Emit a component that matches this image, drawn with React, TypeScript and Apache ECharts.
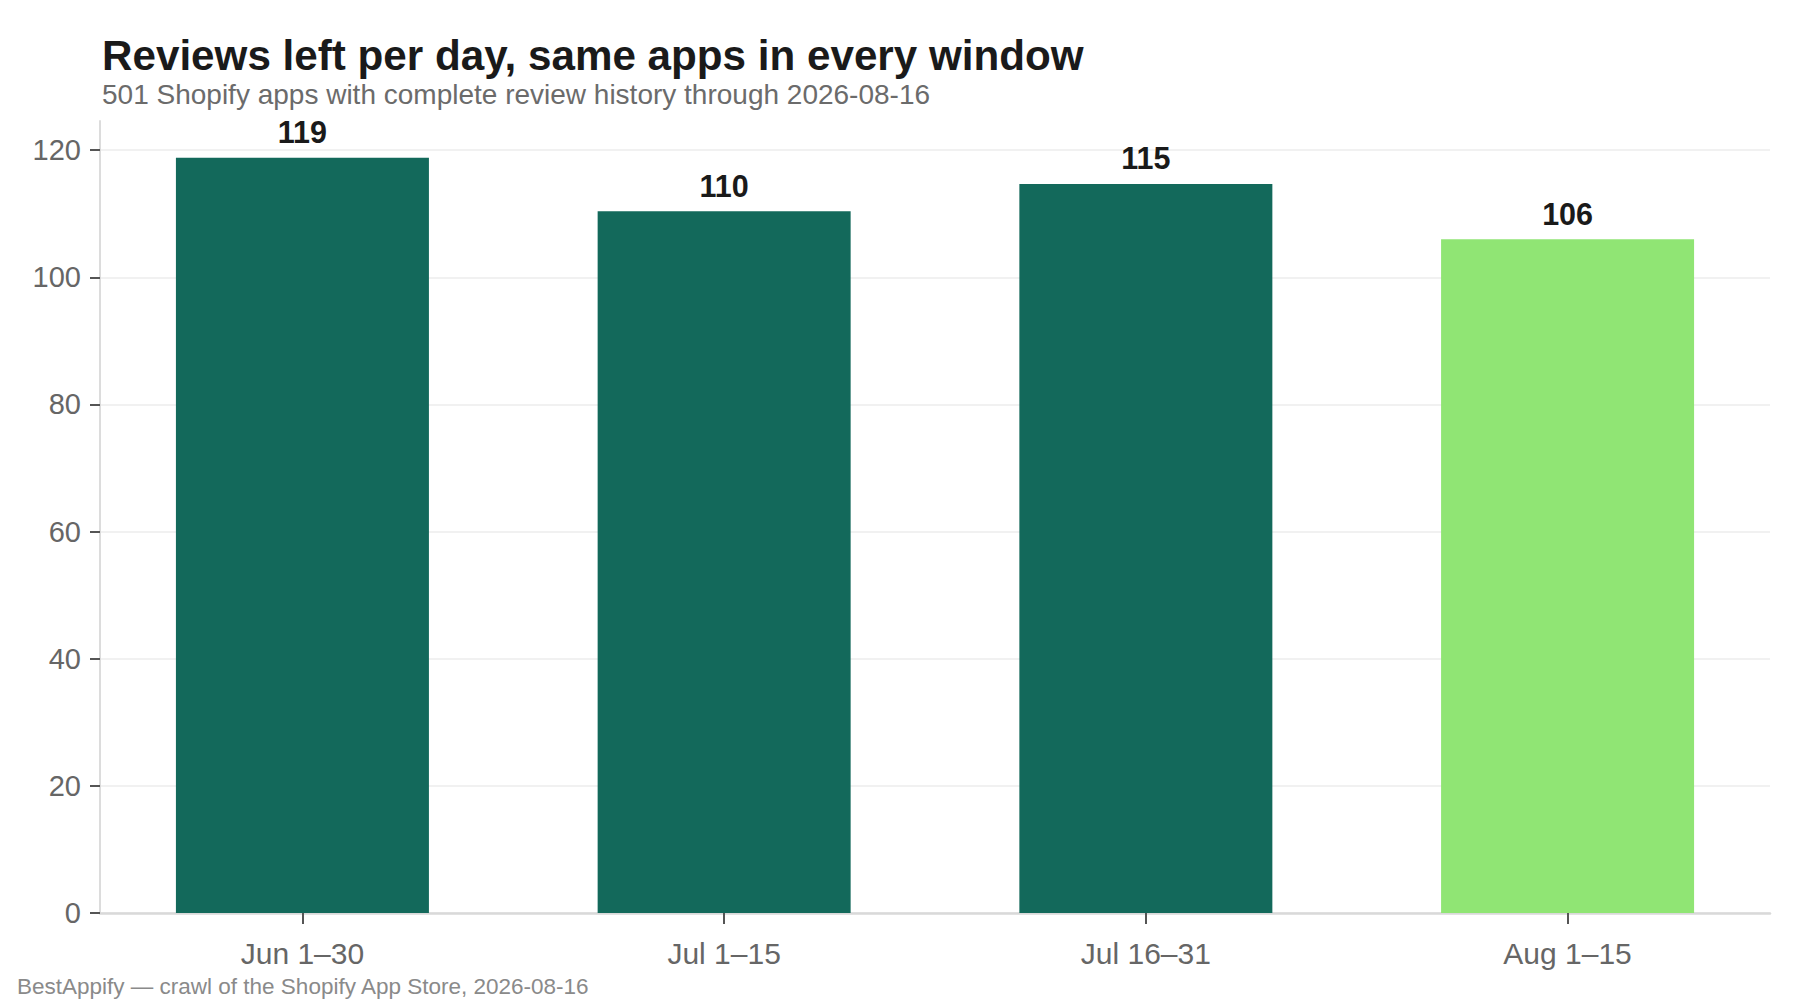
import React, { useEffect, useRef } from "react";
import * as echarts from "echarts";

const categories = ["Jun 1–30", "Jul 1–15", "Jul 16–31", "Aug 1–15"];
const reviewsPerDay = [118.8, 110.4, 114.7, 106.0];
const highlightIndex = 3;
const yTicks = [0, 20, 40, 60, 80, 100, 120];
const xTicks = [1, 2, 3, 4];

const TITLE = "Reviews left per day, same apps in every window";
const SUBTITLE = "501 Shopify apps with complete review history through 2026-08-16";
const FOOTER = "BestAppify — crawl of the Shopify App Store, 2026-08-16";

const DARK = "#13695b";
const LIGHT = "#90e574";
const FONT = "'Liberation Sans', Arial, Helvetica, sans-serif";

export default function App() {
  const ref = useRef<HTMLDivElement>(null);
  useEffect(() => {
    document.body.style.margin = "0";
    if (!ref.current) return;
    const chart = echarts.init(ref.current, null, { renderer: "svg" });
    const data = reviewsPerDay.map((v, i) => ({
      value: [i + 1, v],
      itemStyle: { color: i === highlightIndex ? LIGHT : DARK },
    }));
    chart.setOption({
      animation: false,
      backgroundColor: "#ffffff",
      textStyle: { fontFamily: FONT },
      title: [
        {
          text: TITLE,
          left: 102,
          top: 34,
          padding: 0,
          textStyle: { fontFamily: FONT, fontSize: 42.2, fontWeight: "bold", color: "#1a1a1a" },
        },
        {
          text: SUBTITLE,
          left: 102,
          top: 80.5,
          padding: 0,
          textStyle: { fontFamily: FONT, fontSize: 28, fontWeight: "normal", color: "#6b6b6b" },
        },
        {
          text: FOOTER,
          left: 17,
          top: 974.5,
          padding: 0,
          textStyle: { fontFamily: FONT, fontSize: 22.5, fontWeight: "normal", color: "#8a8a8a" },
        },
      ],
      grid: { left: 100, right: 30, top: 121, height: 792, containLabel: false },
      xAxis: {
        type: "value",
        min: 0.52,
        max: 4.48,
        splitLine: { show: false },
        axisLine: { show: true, onZero: false, lineStyle: { color: "#d9d9d9", width: 2.5 } },
        axisTick: {
          show: true,
          customValues: xTicks,
          length: 11,
          lineStyle: { color: "#555555", width: 2 },
        },
        axisLabel: {
          customValues: xTicks,
          margin: 25,
          fontSize: 30,
          fontFamily: FONT,
          color: "#666666",
          formatter: (v: number) => categories[Math.round(v) - 1] ?? "",
        },
      },
      yAxis: {
        type: "value",
        min: 0,
        max: 124.6,
        interval: 20,
        axisLine: { show: true, lineStyle: { color: "#dcdcdc", width: 2 } },
        axisTick: {
          show: true,
          customValues: yTicks,
          length: 10,
          lineStyle: { color: "#555555", width: 2 },
        },
        axisLabel: {
          customValues: yTicks,
          margin: 19,
          fontSize: 29,
          fontFamily: FONT,
          color: "#666666",
          padding: [8, 0, 0, 0],
          formatter: (v: number) => (v % 20 === 0 ? String(v) : ""),
        },
        splitLine: {
          show: true,
          lineStyle: {
            color: ["#ececec", "#ececec", "#ececec", "#ececec", "#ececec", "#ececec", "#ececec", "transparent"],
            width: 1.5,
          },
        },
      },
      series: [
        {
          type: "bar",
          data,
          barWidth: 253,
          label: {
            show: true,
            position: "top",
            distance: 10,
            fontSize: 30.5,
            fontWeight: "bold",
            fontFamily: FONT,
            color: "#1a1a1a",
            formatter: (p: any) => String(Math.round(p.value[1])),
          },
        },
      ],
    });
    return () => chart.dispose();
  }, []);
  return <div ref={ref} style={{ width: 1800, height: 1000 }} />;
}
